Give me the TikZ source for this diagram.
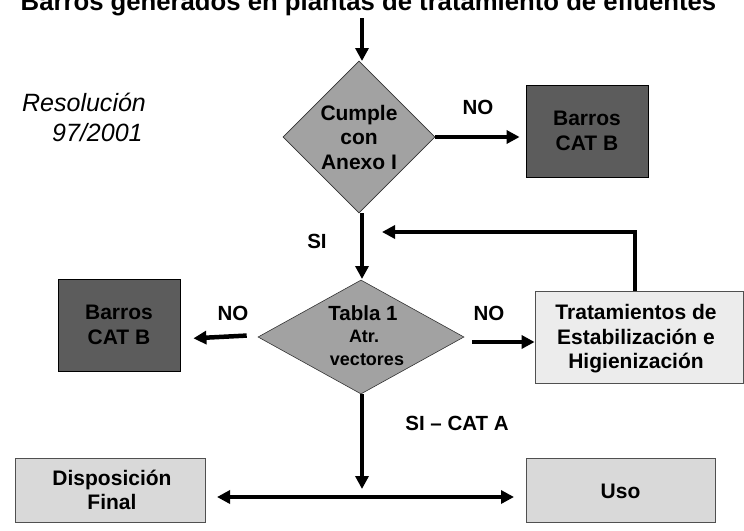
\documentclass[tikz,border=0pt]{standalone}
\usepackage{fontspec}
\setmainfont{Liberation Sans}
\usetikzlibrary{arrows.meta,shapes.geometric}
\definecolor{diafill}{HTML}{A2A2A2}
\definecolor{darkfill}{HTML}{5C5C5C}
\definecolor{lightfill}{HTML}{ECECEC}
\definecolor{midfill}{HTML}{D9D9D9}
\definecolor{boxline}{HTML}{505050}
\begin{document}
\begin{tikzpicture}[x=1pt,y=-1pt,
  arr/.style={line width=4.5pt,-{Triangle[length=13pt,width=13pt]}},
  dbl/.style={line width=4.5pt,{Triangle[length=13pt,width=13pt]}-{Triangle[length=13pt,width=13pt]}},
  dia/.style={diamond,draw=black!80,line width=0.6pt,fill=diafill,inner sep=0pt},
  darkbox/.style={rectangle,draw=black,line width=0.8pt,fill=darkfill,inner sep=0pt},
  lightbox/.style={rectangle,draw=boxline,line width=0.8pt,fill=lightfill,inner sep=0pt},
  midbox/.style={rectangle,draw=boxline,line width=0.8pt,fill=midfill,inner sep=0pt},
  txt/.style={font=\fontsize{21}{24.5}\selectfont\bfseries,text=black,align=center,inner sep=0pt},
  lbl/.style={font=\fontsize{20.5}{24}\selectfont\bfseries,text=black,inner sep=0pt},
  small/.style={font=\fontsize{18}{24}\selectfont\bfseries,text=black,inner sep=0pt}
]
\useasboundingbox (0,0) rectangle (744,530);

% title (cut at top edge, as in the reference)
\node[font=\fontsize{25.7}{30}\selectfont\bfseries,anchor=base,inner sep=0pt] (title) at (368.5,10) {Barros generados en plantas de tratamiento de efluentes};

% Resolution note
\node[font=\fontsize{25}{28}\selectfont\itshape,anchor=base west,inner sep=0pt] (res1) at (22,111) {Resolución};
\node[font=\fontsize{25}{28}\selectfont\itshape,anchor=base west,inner sep=0pt] (res2) at (52,141) {97/2001};

% diamond 1
\node[dia,minimum width=152pt,minimum height=152pt] (d1) at (359,137) {};
\node[txt] (d1t) at (359,137) {Cumple\\con\\Anexo I};

% dark box top right
\node[darkbox,minimum width=122pt,minimum height=92pt] (b1) at (587,131) {};
\node[txt] (b1t) at (587,131) {Barros\\CAT B};

% diamond 2
\node[dia,minimum width=206pt,minimum height=114pt] (d2) at (361,337) {};
\node[lbl] (d2a) at (363,313) {Tabla 1};
\node[small] (d2b) at (364,336) {Atr.};
\node[small] (d2c) at (367,360) {vectores};

% dark box left
\node[darkbox,minimum width=122pt,minimum height=92pt] (b2) at (119,325) {};
\node[txt] (b2t) at (119,325) {Barros\\CAT B};

% treatment box
\node[lightbox,minimum width=208pt,minimum height=92pt] (tr) at (639,337) {};
\node[txt] (trt) at (636,339) {Tratamientos de\\Estabilización e\\Higienización};

% bottom boxes
\node[midbox,minimum width=190pt,minimum height=64pt] (disp) at (110,490) {};
\node[txt] (dispt) at (112,490) {Disposición\\Final};
\node[midbox,minimum width=189pt,minimum height=64pt] (uso) at (620.5,490) {};
\node[txt] (usot) at (620.5,491) {Uso};

% coordinates
\coordinate (tstart) at (362,18);
\coordinate (fb) at (382,232);
\coordinate (join) at (362,489);

% connectors
\draw[arr] (tstart) -- (362,61);
\draw[arr,shorten >=6pt] (d1.east) -- (b1.west |- d1.east);
\draw[arr] (362,213) -- (362,279);
\draw[arr,shorten <=11pt,shorten >=13pt] ([yshift=2]d2.west) -- (b2.east |- 0,339);
\draw[arr] (472,342) -- (tr.west |- 0,342);
\draw[arr] ([xshift=-4pt]tr.north) |- (fb);
\draw[arr] (362,394) -- (join);
\draw[dbl] (217,497) -- (514,497);

% labels
\node[lbl] (no1) at (478,107) {NO};
\node[lbl] (si1) at (317,241) {SI};
\node[lbl] (no2) at (233,313) {NO};
\node[lbl] (no3) at (489,313) {NO};
\node[lbl] (sicat) at (457,423) {SI – CAT A};
\end{tikzpicture}
\end{document}
